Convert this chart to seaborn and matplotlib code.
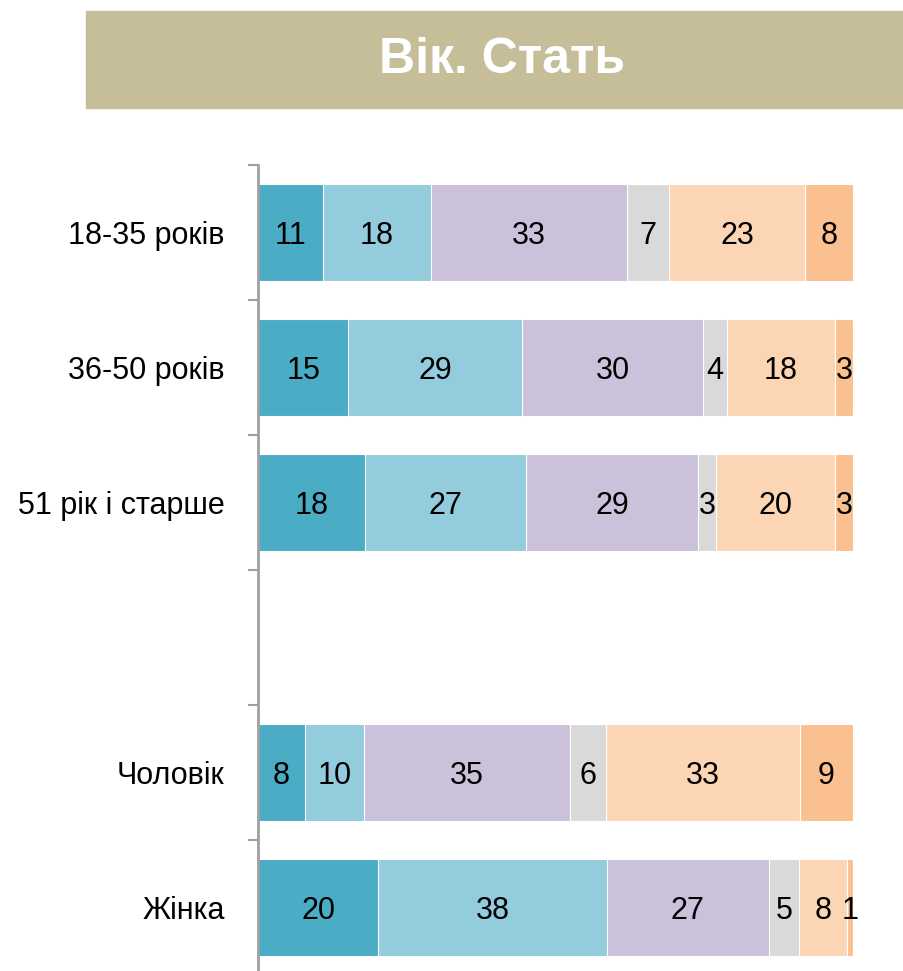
import pandas as pd
import numpy as np
import matplotlib
matplotlib.use("Agg")
import matplotlib.pyplot as plt
import seaborn as sns

# DATA
groups = ["18-35 років", "36-50 років", "51 рік і старше", " ", "Чоловік", "Жінка"]
segments = ["s1", "s2", "s3", "s4", "s5", "s6"]
values = {
    "18-35 років":     [11, 18, 33, 7, 23, 8],
    "36-50 років":     [15, 29, 30, 4, 18, 3],
    "51 рік і старше": [18, 27, 29, 3, 20, 3],
    "Чоловік":         [8, 10, 35, 6, 33, 9],
    "Жінка":           [20, 38, 27, 5, 8, 1],
}
colors = ["#4BACC6", "#93CDDD", "#CCC1DA", "#D9D9D9", "#FCD5B5", "#FAC090"]
title = "Вік. Стать"

sns.set_style("white")
plt.rcParams["font.family"] = ["Liberation Sans Narrow", "Liberation Sans", "DejaVu Sans"]

#Build long table with normalised cumulative widths
rows = []
for g, vals in values.items():
    vals = np.array(vals, dtype=float)
    share = vals / vals.sum() * 100
    cum = np.cumsum(share)
    for k, seg in enumerate(segments):
        rows.append({"group": g, "segment": seg, "value": int(vals[k]),
                     "share": share[k], "cum": cum[k]})
df = pd.DataFrame(rows)

fig = plt.figure(figsize=(9.04, 9.71), dpi=100)
ax = fig.add_axes([258 / 904, 1 - 975 / 971, (853 - 258) / 904, 810 / 971])

#Stack by drawing cumulative bars from the outside in
for k in reversed(range(len(segments))):
    sub = df[df["segment"] == segments[k]]
    sns.barplot(data=sub, y="group", x="cum", order=groups, orient="h",
                color=colors[k], saturation=1, width=0.72, edgecolor="white",
                linewidth=0.8, errorbar=None, ax=ax)

pos = {g: i for i, g in enumerate(groups)}
for _, r in df.iterrows():
    ax.text(r["cum"] - r["share"] / 2, pos[r["group"]], str(r["value"]),
            ha="center", va="center_baseline", fontsize=22, color="black")

ax.set_xlim(0, 100)
ax.set_ylim(len(groups) - 0.5, -0.5)
ax.set_xlabel("")
ax.set_ylabel("")
ax.set_xticks([])
ax.set_yticks(range(len(groups)))
ax.set_yticklabels(groups, fontsize=22, color="black")
ax.set_yticks(np.arange(-0.5, len(groups)), minor=True)
ax.tick_params(axis="y", which="major", length=0, pad=24)
ax.tick_params(axis="y", which="minor", length=7, width=1.5, color="#A0A0A0", left=True)
for s in ["top", "right", "bottom"]:
    ax.spines[s].set_visible(False)
ax.spines["left"].set_color("#A0A0A0")
ax.spines["left"].set_linewidth(2)
ax.spines["left"].set_zorder(5)

#Title banner
fig.patches.append(plt.Rectangle((86 / 904, 1 - 108 / 971), (904 - 86) / 904, 97 / 971,
                                 transform=fig.transFigure, color="#C5BE98", zorder=0))
fig.text(502 / 904, 1 - 60 / 971, title, ha="center", va="center", fontsize=36,
         fontweight="bold", color="white")

fig.savefig("out.png", dpi=100)
